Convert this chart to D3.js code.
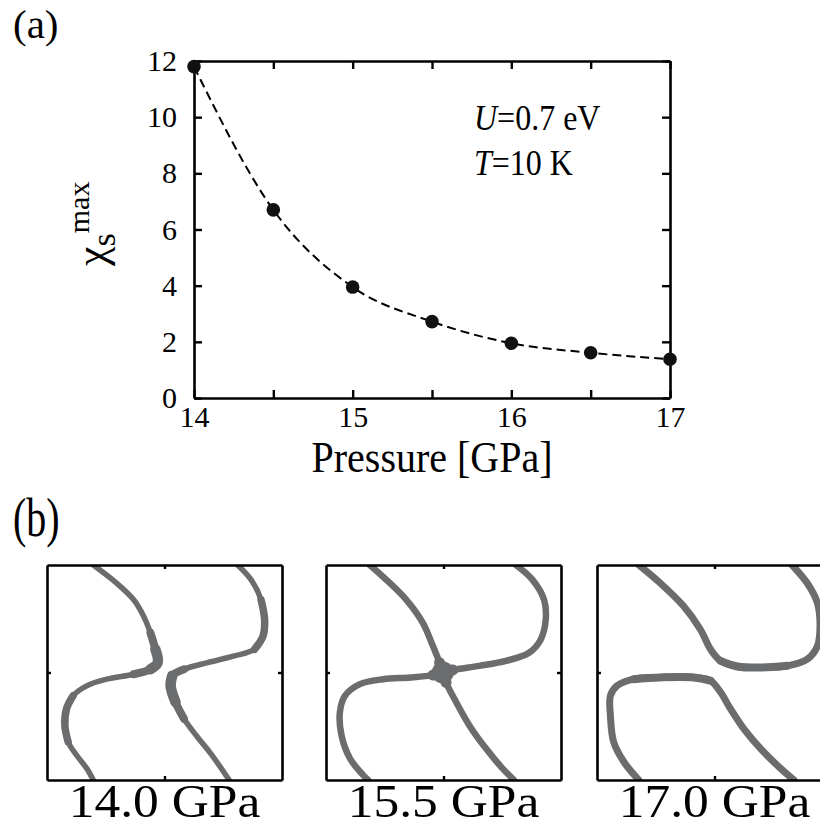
<!DOCTYPE html>
<html>
<head>
<meta charset="utf-8">
<script src="https://cdn.jsdelivr.net/npm/d3@7"></script>
<style>
  body { margin: 0; background: #fff; }
  svg { display: block; font-family: "Liberation Serif", "Times New Roman", serif; }
</style>
</head>
<body>
<div id="area"></div>
<script>
// chi_s^max versus pressure
var pressure = [14, 14.5, 15, 15.5, 16, 16.5, 17];
var chiMax = [11.8, 6.7, 3.95, 2.72, 1.95, 1.61, 1.38];
var xTicks = [14, 15, 16, 17];
var xMinorTicks = [14.5, 15.5, 16.5];
var yTicks = [0, 2, 4, 6, 8, 10, 12];

// Fermi surface traces, panel units (u right, v down, 0..1)
var panelLabels = ['14.0 GPa', '15.5 GPa', '17.0 GPa'];
var fs140 = [
  [[0.197, 0], [0.297, 0.085], [0.369, 0.162], [0.411, 0.238], [0.440, 0.315], [0.461, 0.392],
   [0.471, 0.454], [0.440, 0.485], [0.369, 0.508], [0.254, 0.531], [0.169, 0.562], [0.111, 0.608],
   [0.083, 0.669], [0.076, 0.746], [0.090, 0.823], [0.126, 0.885], [0.169, 0.946], [0.197, 1]],
  [[0.811, 0], [0.869, 0.069], [0.911, 0.162], [0.926, 0.254], [0.919, 0.331], [0.883, 0.392],
   [0.797, 0.423], [0.683, 0.454], [0.583, 0.485], [0.533, 0.515], [0.526, 0.562], [0.547, 0.638],
   [0.583, 0.715], [0.640, 0.800], [0.697, 0.877], [0.775, 1]]
];
var fs155 = [
  [[0.186, 0], [0.257, 0.069], [0.342, 0.162], [0.412, 0.269], [0.455, 0.377], [0.483, 0.454],
   [0.497, 0.500], [0.511, 0.546], [0.554, 0.638], [0.610, 0.746], [0.681, 0.854], [0.751, 0.946], [0.800, 1]],
  [[0.179, 1], [0.158, 0.977], [0.102, 0.900], [0.066, 0.792], [0.059, 0.685], [0.081, 0.608],
   [0.144, 0.554], [0.243, 0.531], [0.359, 0.523], [0.455, 0.512], [0.497, 0.500], [0.540, 0.488],
   [0.653, 0.469], [0.766, 0.446], [0.864, 0.408], [0.914, 0.346], [0.935, 0.254], [0.928, 0.162],
   [0.879, 0.069], [0.808, 0]]
];
var fs170 = [
  [[0.178, 0], [0.270, 0.085], [0.369, 0.192], [0.440, 0.300], [0.483, 0.392], [0.526, 0.446],
   [0.597, 0.472], [0.696, 0.477], [0.810, 0.469], [0.895, 0.438], [0.938, 0.377], [0.949, 0.285],
   [0.938, 0.177], [0.895, 0.085], [0.830, 0]],
  [[0.178, 1], [0.114, 0.915], [0.071, 0.823], [0.057, 0.700], [0.057, 0.608], [0.085, 0.562],
   [0.156, 0.531], [0.270, 0.523], [0.412, 0.523], [0.483, 0.538], [0.526, 0.592], [0.568, 0.669],
   [0.625, 0.762], [0.696, 0.854], [0.781, 0.946], [0.838, 1]]
];
var surfaces = [fs140, fs155, fs170];

// broadened stretches: [panel, curve, first index, last index, stroke width]
var thickParts = [
  [0, 0, 4, 8, 8], [0, 0, 5, 7, 10.5], [0, 0, 11, 14, 7.5],
  [0, 1, 8, 12, 8], [0, 1, 9, 11, 10.5], [0, 1, 2, 5, 7.5],
  [1, 0, 5, 7, 11], [1, 1, 9, 11, 11], [1, 0, 6, 6, 22],
  [2, 0, 5, 8, 8], [2, 1, 6, 9, 8]
];

(function() {
  var width = 820, height = 827;
  var svg = d3.select('#area').append('svg').attr('width', width).attr('height', height);

  var left = 194, right = 670, plotTop = 61, plotBottom = 398;
  var x = d3.scaleLinear().domain([14, 17]).range([left, right]);
  var y = d3.scaleLinear().domain([0, 12]).range([plotBottom, plotTop]);

  function label(px, py, sx, sy, size) {
    return svg.append('text').attr('transform', 'translate(' + px + ',' + py + ') scale(' + sx + ',' + sy + ')')
      .attr('font-size', size);
  }

  label(13, 38, 1, 1, 41).text('(a)');
  label(13, 536, 1, 1.35, 40).text('(b)');

  // frame with inward ticks on every side
  var allX = xTicks.concat(xMinorTicks);
  function frameAxis(axis, tr) {
    var g = svg.append('g').attr('transform', tr).call(axis);
    g.select('.domain').attr('stroke-width', 2.6);
    g.selectAll('.tick line').attr('stroke-width', 2.4);
    return g;
  }
  var gx = frameAxis(d3.axisBottom(x).tickValues(allX).tickSizeInner(-8).tickSizeOuter(0).tickPadding(8)
    .tickFormat(d3.format('d')), 'translate(0,' + plotBottom + ')');
  gx.selectAll('.tick').filter(function(d) { return xTicks.indexOf(d) < 0; }).select('text').remove();
  frameAxis(d3.axisTop(x).tickValues(allX).tickSizeInner(-8).tickSizeOuter(0).tickFormat(''), 'translate(0,' + plotTop + ')')
    .selectAll('text').remove();
  var gy = frameAxis(d3.axisLeft(y).tickValues(yTicks).tickSizeInner(-8).tickSizeOuter(0).tickPadding(17), 'translate(' + left + ',0)');
  frameAxis(d3.axisRight(y).tickValues(yTicks).tickSizeInner(-8).tickSizeOuter(0).tickFormat(''), 'translate(' + right + ',0)')
    .selectAll('text').remove();

  gx.selectAll('text').attr('font-size', 30).attr('font-family', 'Liberation Serif').attr('fill', '#000');
  gy.selectAll('text').attr('font-size', 30).attr('font-family', 'Liberation Serif').attr('fill', '#000');

  label((left + right) / 2, 472, 1, 1.1, 40).attr('text-anchor', 'middle').text('Pressure [GPa]');

  // y label: chi_s^max, rotated
  var ylab = svg.append('text').attr('transform', 'translate(106,266) rotate(-90)').attr('font-size', 44);
  ylab.append('tspan').text('χ');
  ylab.append('tspan').attr('dy', 9).attr('font-size', 34).text('s');
  ylab.append('tspan').attr('dy', -26).attr('font-size', 30).text('max');

  var t1 = label(474, 130, 1, 1.12, 32);
  t1.append('tspan').attr('font-style', 'italic').text('U');
  t1.append('tspan').text('=0.7 eV');
  var t2 = label(474, 175, 1, 1.12, 32);
  t2.append('tspan').attr('font-style', 'italic').text('T');
  t2.append('tspan').text('=10 K');

  var points = pressure.map(function(p, i) { return [p, chiMax[i]]; });
  var line = d3.line().x(function(d) { return x(d[0]); }).y(function(d) { return y(d[1]); }).curve(d3.curveMonotoneX);
  svg.append('path').datum(points).attr('d', line).attr('fill', 'none').attr('stroke', '#000')
    .attr('stroke-width', 2).attr('stroke-dasharray', '9,5');
  svg.selectAll('circle.pt').data(points).enter().append('circle').attr('class', 'pt')
    .attr('cx', function(d) { return x(d[0]); }).attr('cy', function(d) { return y(d[1]); })
    .attr('r', 6.8).attr('fill', '#111');

  // Fermi surface panels
  var panelLeft = [47, 326, 597], panelTop = 565, panelW = 235, panelH = 215;
  var bandColor = '#6b6c6e';
  panelLeft.forEach(function(pl, k) {
    var u = d3.scaleLinear().domain([0, 1]).range([pl, pl + panelW]);
    var v = d3.scaleLinear().domain([0, 1]).range([panelTop, panelTop + panelH]);
    var g = svg.append('g');
    var cid = 'clip' + k;
    g.append('clipPath').attr('id', cid).append('rect')
      .attr('x', pl).attr('y', panelTop).attr('width', panelW).attr('height', panelH);
    var band = d3.line().x(function(d) { return u(d[0]); }).y(function(d) { return v(d[1]); }).curve(d3.curveCatmullRom);
    var sw = [5.5, 6.5, 7][k];
    var bands = g.append('g').attr('clip-path', 'url(#' + cid + ')')
      .attr('fill', 'none').attr('stroke', bandColor).attr('stroke-linecap', 'round').attr('stroke-linejoin', 'round');
    surfaces[k].forEach(function(c) {
      bands.append('path').datum(c).attr('d', band).attr('stroke-width', sw);
    });
    thickParts.filter(function(t) { return t[0] === k; }).forEach(function(t) {
      var c = surfaces[k][t[1]];
      var seg = t[2] === t[3] ? [c[t[2]], c[t[2]]] : c.slice(t[2], t[3] + 1);
      bands.append('path').datum(seg).attr('d', band).attr('stroke-width', t[4]);
    });
    [[d3.axisBottom(u), 'translate(0,' + (panelTop + panelH) + ')'],
     [d3.axisTop(u), 'translate(0,' + panelTop + ')'],
     [d3.axisLeft(v), 'translate(' + pl + ',0)'],
     [d3.axisRight(v), 'translate(' + (pl + panelW) + ',0)']].forEach(function(a) {
      frameAxis(a[0].tickValues([0.5]).tickSizeInner(-4).tickSizeOuter(0).tickFormat(''), a[1])
        .selectAll('text').remove();
    });
    label(pl + panelW / 2, 817, 1.12, 1, 46).attr('text-anchor', 'middle').text(panelLabels[k]);
  });
})();
</script>
</body>
</html>
